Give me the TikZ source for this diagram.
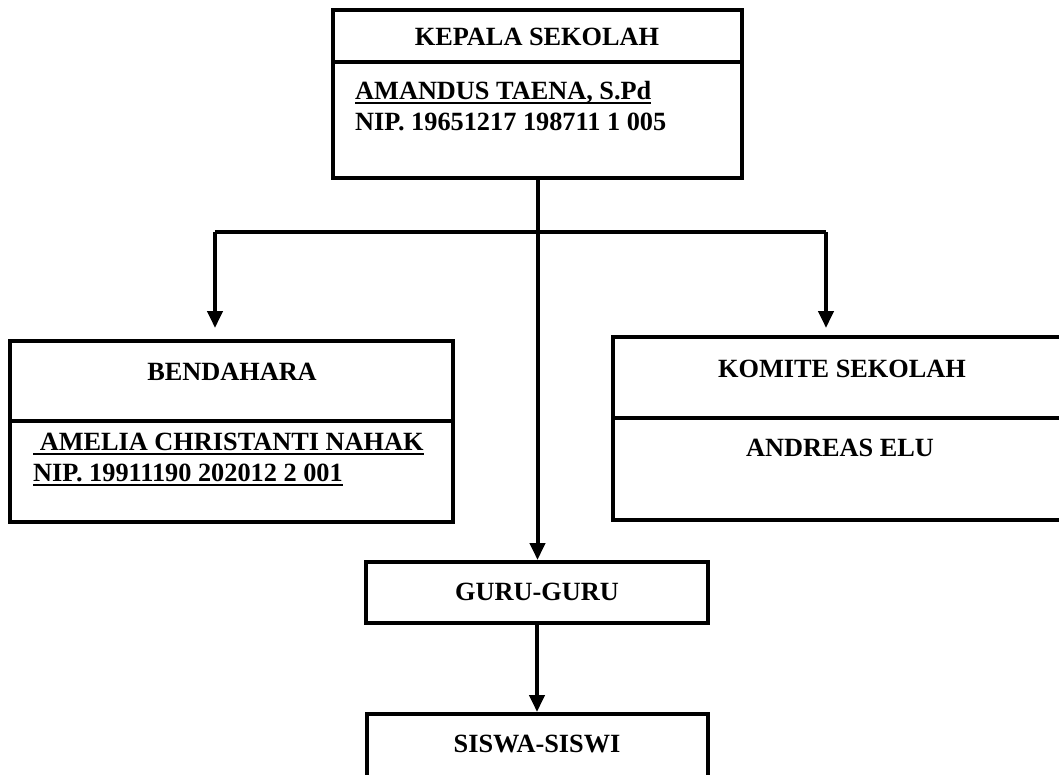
\documentclass[tikz,border=0pt]{standalone}
\usepackage{fontspec}
\setmainfont{Liberation Serif}
\usetikzlibrary{calc}
\usetikzlibrary{arrows.meta}
\newcommand{\ulin}[1]{\begingroup\setbox0=\hbox{#1}\rlap{\rule[-5pt]{\wd0}{2.2pt}}\box0\endgroup}
\tikzset{
  orgbox/.style={draw,line width=4pt,inner sep=0pt},
  orgtext/.style={inner sep=0pt,font=\fontsize{26.3}{30}\selectfont\bfseries},
  link/.style={line width=4pt},
  linkarrow/.style={line width=4pt,-{Triangle[width=15pt,length=17pt]}}
}

\begin{document}
\begin{tikzpicture}[x=1pt,y=-1pt]
        \useasboundingbox (0,0) rectangle (1059,774);
        \clip (0,0) rectangle (1059,774);
        % Boxes
        \node[orgbox,minimum width=409pt,minimum height=168pt] (kepala) at (537.5,94) {};
        \node[orgbox,minimum width=443pt,minimum height=181pt] (bendahara) at (231.5,431.5) {};
        \node[orgbox,minimum width=467pt,minimum height=183pt] (komite) at (846.5,428.5) {};
        \node[orgbox,minimum width=342pt,minimum height=61pt] (guru) at (537,592.5) {};
        \node[orgbox,minimum width=341pt,minimum height=90pt] (siswa) at (537.5,759) {};
        % Dividers
        \draw[link,line width=3.5pt] (kepala.west |- 0,62) -- (kepala.east |- 0,62);
        \draw[link,line width=3.5pt] (bendahara.west |- 0,421) -- (bendahara.east |- 0,421);
        \draw[link,line width=3.5pt] (komite.west |- 0,418) -- (komite.east |- 0,418);
        % Texts
        \node[orgtext,anchor=base] (kepalatitle) at (537,45) {KEPALA SEKOLAH};
        \node[orgtext,anchor=base west] (kepalaname) at (355,99) {\ulin{AMANDUS TAENA, S.Pd}};
        \node[orgtext,anchor=base west] (kepalanip) at (355,130) {NIP. 19651217 198711 1 005};
        \node[orgtext,anchor=base] (bendaharatitle) at (232,380) {BENDAHARA};
        \node[orgtext,anchor=base west] (bendaharaname) at (33,450) {\ulin{\ AMELIA CHRISTANTI NAHAK}};
        \node[orgtext,anchor=base west] (bendaharanip) at (33,481) {\ulin{NIP. 19911190 202012 2 001}};
        \node[orgtext,anchor=base] (komitetitle) at (842,377) {KOMITE SEKOLAH};
        \node[orgtext,anchor=base] (komitename) at (840,456) {ANDREAS ELU};
        \node[orgtext,anchor=base] (gurutitle) at (537,600) {GURU-GURU};
        \node[orgtext,anchor=base] (siswatitle) at (537,752) {SISWA-SISWI};
        % Connectors
        \coordinate (forkL) at (215,232);
        \coordinate (forkR) at (826,232);
        \coordinate (tipL) at (215,328);
        \coordinate (tipR) at (826,328);
        \draw[linkarrow] (kepala.south) -- (kepala.south |- guru.north);
        \draw[link] (forkL) -- (forkR);
        \draw[linkarrow] (forkL) -- (tipL);
        \draw[linkarrow] (forkR) -- (tipR);
        \draw[linkarrow] (guru.south) -- (guru.south |- siswa.north);
\end{tikzpicture}
\end{document}
